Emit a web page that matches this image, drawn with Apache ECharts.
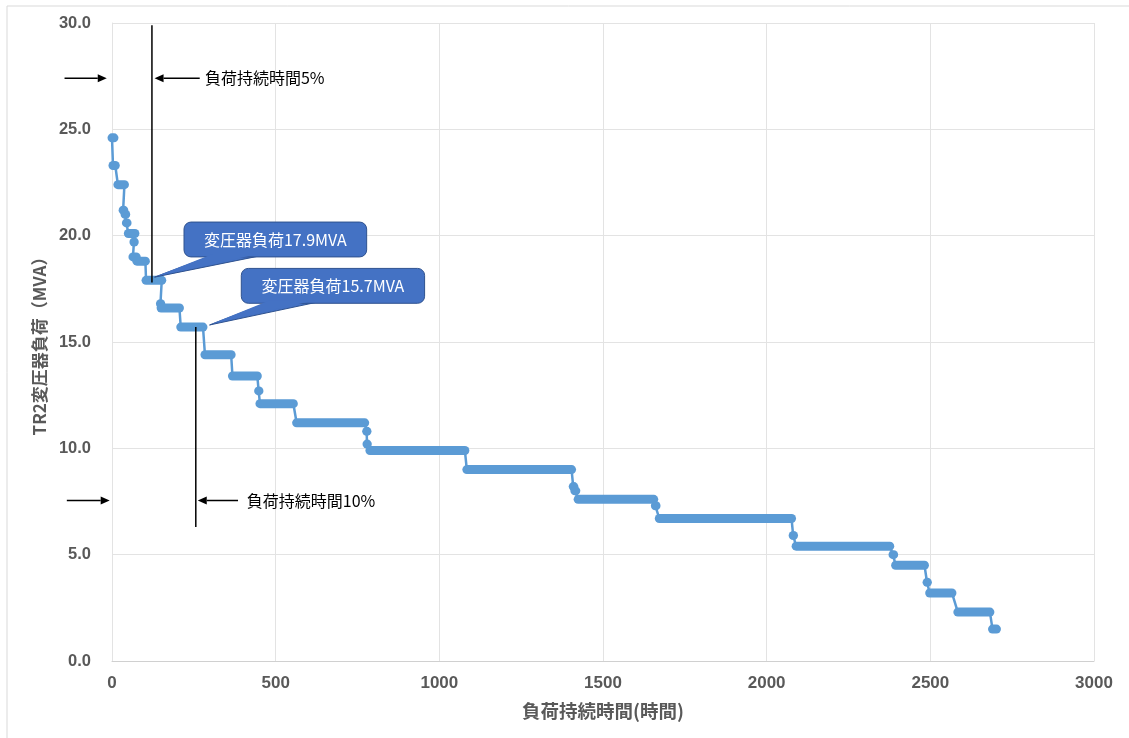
<!DOCTYPE html>
<html>
<head>
<meta charset="utf-8">
<script src="https://cdn.jsdelivr.net/npm/echarts@6/dist/echarts.min.js"></script>
<style>
html,body{margin:0;padding:0;background:#fff;}
#c{width:1129px;height:738px;}
</style>
</head>
<body>
<div id="c"></div>
<script>
// Load-duration steps: [startHour, endHour, MVA]
const steps = [
  [0, 6, 24.6],
  [3, 10, 23.3],
  [18, 38, 22.4],
  [34, 36, 21.2],
  [40, 42, 21.0],
  [44, 46, 20.6],
  [50, 70, 20.1],
  [67, 68, 19.7],
  [64, 74, 19.0],
  [76, 102, 18.8],
  [104, 152, 17.9],
  [148, 149, 16.8],
  [150, 206, 16.6],
  [210, 278, 15.7],
  [284, 364, 14.4],
  [368, 444, 13.4],
  [448, 449, 12.7],
  [452, 554, 12.1],
  [564, 772, 11.2],
  [778, 779, 10.8],
  [779, 780, 10.2],
  [788, 1078, 9.9],
  [1084, 1404, 9.0],
  [1409, 1411, 8.2],
  [1414, 1417, 8.0],
  [1424, 1655, 7.6],
  [1660, 1662, 7.3],
  [1672, 2076, 6.7],
  [2081, 2082, 5.9],
  [2090, 2376, 5.4],
  [2386, 2388, 5.0],
  [2394, 2482, 4.5],
  [2490, 2491, 3.7],
  [2498, 2566, 3.2],
  [2584, 2682, 2.3],
  [2690, 2702, 1.5]
];
const xTicks = [0, 500, 1000, 1500, 2000, 2500, 3000];
const yTicks = [0, 5, 10, 15, 20, 25, 30];

// Annotations in data coordinates
const vLines = [
  {x: 122, y0: 29.9, y1: 17.8},
  {x: 256, y0: 15.7, y1: 6.3}
];
const arrowNotes = [
  {y: 27.4, leftFrom: -145, leftTo: -16, rightFrom: 268, rightTo: 130, textX: 284, text: '負荷持続時間5%'},
  {y: 7.55, leftFrom: -138, leftTo: -7, rightFrom: 385, rightTo: 262, textX: 412, text: '負荷持続時間10%'}
];
const callouts = [
  {x0: 220, x1: 778, yTop: 20.64, yBot: 19.0, baseL: 303, baseR: 451, tipX: 130, tipY: 18.05, text: '変圧器負荷17.9MVA'},
  {x0: 395, x1: 955, yTop: 18.46, yBot: 16.82, baseL: 478, baseR: 625, tipX: 298, tipY: 15.8, text: '変圧器負荷15.7MVA'}
];

const lineData = [];
steps.forEach(s => { lineData.push([s[0], s[2]]); lineData.push([s[1], s[2]]); });

const FONT = '"Liberation Sans", "Noto Sans CJK JP", Arial, sans-serif';
const CJK = '"Noto Sans CJK JP", "Liberation Sans", sans-serif';
const BLUE = '#5B9BD5';

const chart = echarts.init(document.getElementById('c'));
chart.setOption({
  animation: false,
  backgroundColor: '#fff',
  grid: {left: 112, right: 35, top: 23, bottom: 77},
  xAxis: {
    type: 'value', min: xTicks[0], max: xTicks[xTicks.length - 1], interval: xTicks[1] - xTicks[0],
    name: '負荷持続時間(時間)', nameLocation: 'middle', nameGap: 41,
    nameTextStyle: {fontFamily: CJK, fontSize: 18.5, fontWeight: 'bold', color: '#595959'},
    axisLine: {show: true, lineStyle: {color: '#d0d0d0', width: 1}},
    axisTick: {show: false},
    axisLabel: {fontFamily: FONT, fontSize: 17, fontWeight: 'bold', color: '#595959', margin: 14,
      formatter: v => String(v)},
    splitLine: {show: true, lineStyle: {color: '#e3e3e3', width: 1}}
  },
  yAxis: {
    type: 'value', min: yTicks[0], max: yTicks[yTicks.length - 1], interval: yTicks[1] - yTicks[0],
    name: 'TR2変圧器負荷（MVA）', nameLocation: 'middle', nameGap: 64, nameRotate: 90,
    nameTextStyle: {fontFamily: CJK, fontSize: 17, fontWeight: 'bold', color: '#595959'},
    axisLine: {show: true, lineStyle: {color: '#e3e3e3', width: 1}},
    axisTick: {show: false},
    axisLabel: {fontFamily: FONT, fontSize: 16.5, fontWeight: 'bold', color: '#595959', margin: 21,
      formatter: v => v.toFixed(1)},
    splitLine: {show: true, lineStyle: {color: '#e3e3e3', width: 1}}
  },
  series: [
    {
      type: 'line', data: lineData, showSymbol: false, symbol: 'none',
      lineStyle: {color: BLUE, width: 2.5}, z: 2
    },
    {
      type: 'custom', data: steps, encode: {x: [0, 1], y: 2}, z: 3,
      renderItem: function (params, api) {
        const p0 = api.coord([api.value(0), api.value(2)]);
        const p1 = api.coord([api.value(1), api.value(2)]);
        return {
          type: 'line',
          shape: {x1: p0[0], y1: p0[1], x2: p1[0], y2: p1[1]},
          style: {stroke: BLUE, lineWidth: 9, lineCap: 'round', fill: null}
        };
      }
    }
  ]
});

function px(x, y) { return chart.convertToPixel({xAxisIndex: 0, yAxisIndex: 0}, [x, y]); }

function arrow(from, to) {
  const dx = to[0] - from[0], dy = to[1] - from[1];
  const len = Math.sqrt(dx * dx + dy * dy);
  const ux = dx / len, uy = dy / len;
  const hl = 9, hw = 4;
  const bx = to[0] - ux * hl, by = to[1] - uy * hl;
  return [
    {type: 'line', z: 100, shape: {x1: from[0], y1: from[1], x2: bx, y2: by},
      style: {stroke: '#000', lineWidth: 1.5}},
    {type: 'polygon', z: 100, shape: {points: [[to[0], to[1]], [bx - uy * hw, by + ux * hw], [bx + uy * hw, by - ux * hw]]},
      style: {fill: '#000'}}
  ];
}

const g = [];
g.push({type: 'rect', z: -10, silent: true, shape: {x: 7, y: 6, width: 1140, height: 750},
  style: {fill: null, stroke: '#d9d9d9', lineWidth: 1}});

vLines.forEach(v => {
  const a = px(v.x, v.y0), b = px(v.x, v.y1);
  g.push({type: 'line', z: 100, shape: {x1: a[0], y1: a[1], x2: b[0], y2: b[1]},
    style: {stroke: '#000', lineWidth: 1.5}});
});

arrowNotes.forEach(n => {
  arrow(px(n.leftFrom, n.y), px(n.leftTo, n.y)).forEach(e => g.push(e));
  arrow(px(n.rightFrom, n.y), px(n.rightTo, n.y)).forEach(e => g.push(e));
  const t = px(n.textX, n.y);
  g.push({type: 'text', z: 100, x: t[0], y: t[1],
    style: {text: n.text, fill: '#000', font: '16px ' + CJK, verticalAlign: 'middle', align: 'left'}});
});

callouts.forEach(c => {
  const tl = px(c.x0, c.yTop), br = px(c.x1, c.yBot);
  const bl = px(c.baseL, c.yBot), brr = px(c.baseR, c.yBot);
  const tip = px(c.tipX, c.tipY);
  const pts = [[bl[0], bl[1] - 1], [brr[0], brr[1] - 1], [tip[0], tip[1]]];
  g.push({type: 'polygon', z: 110, shape: {points: pts}, style: {fill: '#4472C4', stroke: '#2F528F', lineWidth: 1}});
  g.push({type: 'rect', z: 111, shape: {x: tl[0], y: tl[1], width: br[0] - tl[0], height: br[1] - tl[1], r: 7},
    style: {fill: '#4472C4', stroke: '#2F528F', lineWidth: 1}});
  const inner = [[bl[0] + 1.5, bl[1] - 3], [brr[0] - 1.5, brr[1] - 3], [tip[0] + 1.5, tip[1] - 1]];
  g.push({type: 'polygon', z: 112, shape: {points: inner}, style: {fill: '#4472C4'}});
  g.push({type: 'text', z: 113, x: (tl[0] + br[0]) / 2, y: (tl[1] + br[1]) / 2,
    style: {text: c.text, fill: '#fff', font: '16px ' + CJK, align: 'center', verticalAlign: 'middle'}});
});

chart.setOption({graphic: g});
</script>
</body>
</html>
